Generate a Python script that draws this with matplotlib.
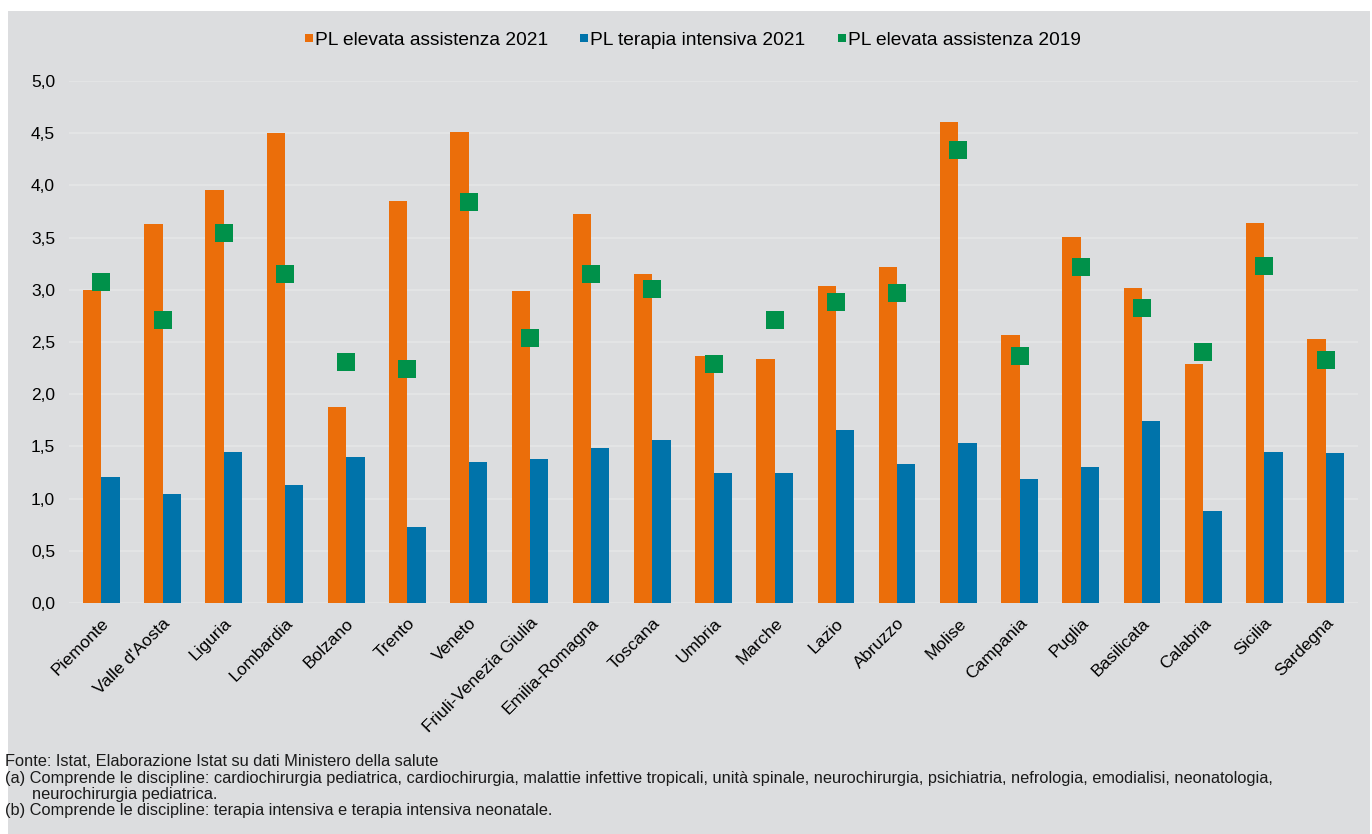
import matplotlib
matplotlib.use("Agg")
import matplotlib.pyplot as plt
from matplotlib.lines import Line2D
from matplotlib.patches import Rectangle
import numpy as np

plt.rcParams['font.family'] = ['Liberation Sans', 'DejaVu Sans']

regions = ["Piemonte", "Valle d'Aosta", "Liguria", "Lombardia", "Bolzano", "Trento",
           "Veneto", "Friuli-Venezia Giulia", "Emilia-Romagna", "Toscana", "Umbria",
           "Marche", "Lazio", "Abruzzo", "Molise", "Campania", "Puglia", "Basilicata",
           "Calabria", "Sicilia", "Sardegna"]
elevata_2021 = [3.00, 3.63, 3.96, 4.50, 1.88, 3.85, 4.51, 2.99, 3.73, 3.15, 2.37,
                2.34, 3.04, 3.22, 4.61, 2.57, 3.51, 3.02, 2.29, 3.64, 2.53]
intensiva_2021 = [1.21, 1.04, 1.45, 1.13, 1.40, 0.73, 1.35, 1.38, 1.48, 1.56, 1.25,
                  1.25, 1.66, 1.33, 1.53, 1.19, 1.30, 1.74, 0.88, 1.45, 1.44]
elevata_2019 = [3.07, 2.71, 3.54, 3.15, 2.31, 2.24, 3.84, 2.54, 3.15, 3.01, 2.29,
                2.71, 2.88, 2.97, 4.34, 2.37, 3.22, 2.83, 2.40, 3.23, 2.33]
yticks = [0.0, 0.5, 1.0, 1.5, 2.0, 2.5, 3.0, 3.5, 4.0, 4.5, 5.0]
legend_labels = ["PL elevata assistenza 2021", "PL terapia intensiva 2021",
                 "PL elevata assistenza 2019"]
footnotes = [
    "Fonte: Istat, Elaborazione Istat su dati Ministero della salute",
    "(a) Comprende le discipline: cardiochirurgia pediatrica, cardiochirurgia, malattie infettive tropicali, unità spinale, neurochirurgia, psichiatria, nefrologia, emodialisi, neonatologia,",
    "      neurochirurgia pediatrica.",
    "(b) Comprende le discipline: terapia intensiva e terapia intensiva neonatale.",
]

c_orange = "#EB6E0A"
c_blue = "#0073AA"
c_green = "#00914A"
bg = "#DCDDDF"

fig = plt.figure(figsize=(13.72, 8.34), dpi=100)
fig.patch.set_facecolor("white")
bgrect = Rectangle((8/1372, 0), 1362/1372, (834-11)/834,
                   transform=fig.transFigure, facecolor=bg,
                   edgecolor="none", zorder=-10)
fig.add_artist(bgrect)

ax = fig.add_axes([69/1372, (834-603)/834, (1358-69)/1372, (603-81)/834])
ax.set_zorder(1)
ax.patch.set_visible(False)

x = np.arange(len(regions))
w = 0.3
ax.bar(x - w/2, elevata_2021, width=w, color=c_orange, zorder=2)
ax.bar(x + w/2, intensiva_2021, width=w, color=c_blue, zorder=2)
ax.plot(x, elevata_2019, linestyle="none", marker="s", markersize=13,
        markeredgewidth=0, color=c_green, zorder=3)

ax.set_ylim(0, 5)
ax.set_xlim(-0.53, 20.53)
ax.set_yticks(yticks)
ax.set_yticklabels([f"{v:.1f}".replace(".", ",") for v in yticks], fontsize=12.5)
ax.set_xticks(x)
ax.set_xticklabels(regions, rotation=45, ha="right", va="top",
                   rotation_mode="anchor", fontsize=12.5)
ax.tick_params(axis="both", length=0)
ax.tick_params(axis="y", pad=10)
ax.tick_params(axis="x", pad=9)
for s in ax.spines.values():
    s.set_visible(False)
ax.grid(axis="y", color="#E5E6E7", linewidth=1.2, zorder=1)
ax.set_axisbelow(True)

handles = [Line2D([], [], linestyle="none", marker="s", markersize=6,
                  markeredgewidth=0, color=c) for c in (c_orange, c_blue, c_green)]
fig.legend(handles, legend_labels, loc="center", bbox_to_anchor=(0.505, 1 - 40/834),
           ncol=3, frameon=False, fontsize=13.8, handlelength=0.4,
           handletextpad=0.1, columnspacing=1.7)

ys = [762, 778, 794, 810]
for t, yy in zip(footnotes, ys):
    fig.text(5/1372, 1 - yy/834, t, fontsize=11.8, ha="left", va="center", color="#1a1a1a")

fig.savefig("out.png", dpi=100, facecolor=fig.get_facecolor())
